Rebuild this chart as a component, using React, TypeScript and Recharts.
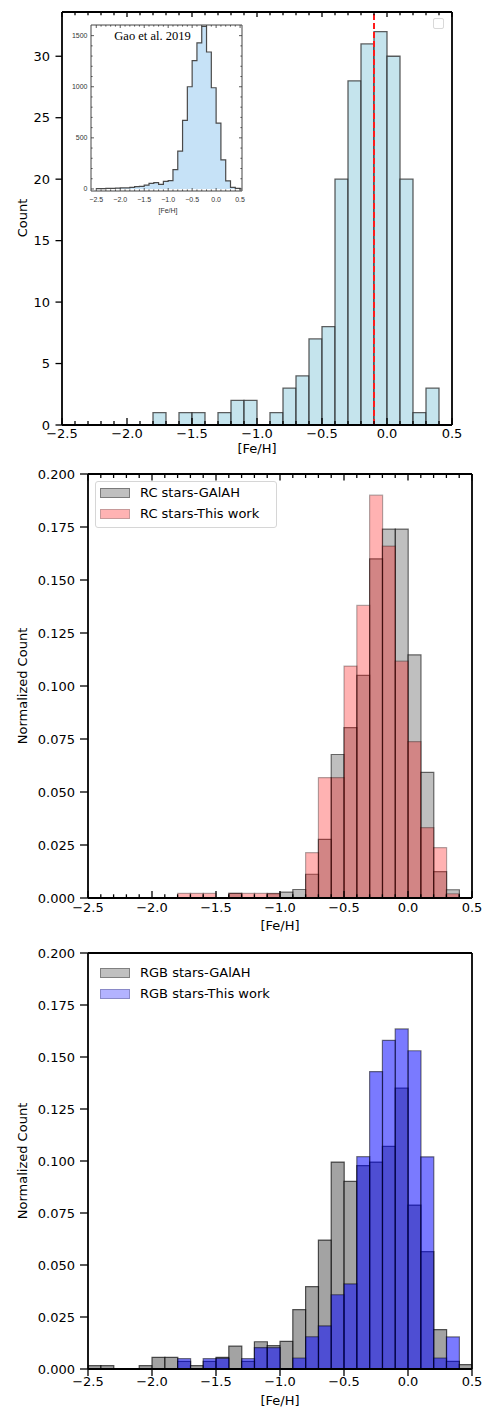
import React from 'react';
import { ComposedChart, Bar, Area, XAxis, YAxis, ReferenceLine, Legend } from 'recharts';

// ---------- data ----------
const binCenters = [-2.45, -2.35, -2.25, -2.15, -2.05, -1.95, -1.85, -1.75, -1.65, -1.55, -1.45, -1.35, -1.25, -1.15, -1.05, -0.95, -0.85, -0.75, -0.65, -0.55, -0.45, -0.35, -0.25, -0.15, -0.05, 0.05, 0.15, 0.25, 0.35, 0.45];

// Panel 1: counts (this work)
const countThisWork = [0, 0, 0, 0, 0, 0, 0, 1, 0, 1, 1, 0, 1, 2, 2, 0, 1, 3, 4, 7, 8, 20, 28, 31, 32, 30, 20, 1, 3, 0];
const medianFeH = -0.1;

// Panel 2: RC stars (normalized)
const rcGalah = [0, 0, 0, 0, 0, 0, 0, 0, 0, 0, 0, 0.0022, 0, 0, 0.002, 0.0028, 0.004, 0.0112, 0.0277, 0.0677, 0.0804, 0.105, 0.16, 0.174, 0.174, 0.1147, 0.0593, 0.0124, 0.0039, 0];
const rcThisWork = [0, 0, 0, 0, 0, 0, 0, 0.0022, 0.0022, 0.0022, 0, 0.0022, 0.0022, 0.0022, 0.0022, 0, 0, 0.0214, 0.0568, 0.0568, 0.1094, 0.138, 0.19, 0.166, 0.1117, 0.0738, 0.0332, 0.0238, 0.002, 0];

// Panel 3: RGB stars (normalized)
const rgbGalah = [0.0016, 0.0016, 0, 0, 0.0016, 0.0056, 0.0056, 0.0037, 0.0016, 0.0037, 0.0056, 0.011, 0.0037, 0.0131, 0.0112, 0.0133, 0.0285, 0.0396, 0.062, 0.0995, 0.0902, 0.0978, 0.0995, 0.107, 0.135, 0.0788, 0.0564, 0.0189, 0.0037, 0.0021];
const rgbThisWork = [0, 0, 0, 0, 0, 0, 0, 0.005, 0, 0.005, 0.0051, 0, 0.005, 0.0103, 0.0103, 0, 0.0053, 0.0155, 0.0207, 0.0357, 0.0409, 0.1021, 0.143, 0.158, 0.1635, 0.153, 0.102, 0.0053, 0.0154, 0];

// Inset: Gao et al. 2019 (bin left edges and counts)
const gaoEdges = [-2.5, -2.4, -2.3, -2.2, -2.1, -2.0, -1.9, -1.8, -1.7, -1.6, -1.5, -1.4, -1.3, -1.2, -1.1, -1.0, -0.9, -0.8, -0.7, -0.6, -0.5, -0.4, -0.3, -0.2, -0.1, 0.0, 0.1, 0.2, 0.3, 0.4, 0.5];
const gaoCounts = [3, 3, 5, 6, 8, 10, 10, 15, 22, 25, 38, 55, 62, 45, 75, 82, 190, 370, 670, 1000, 1255, 1430, 1590, 1340, 990, 645, 285, 80, 15, 5, 0];

// ticks
const feTicks = [-2.5, -2.4, -2.3, -2.2, -2.1, -2.0, -1.9, -1.8, -1.7, -1.6, -1.5, -1.4, -1.3, -1.2, -1.1, -1.0, -0.9, -0.8, -0.7, -0.6, -0.5, -0.4, -0.3, -0.2, -0.1, 0.0, 0.1, 0.2, 0.3, 0.4, 0.5];
const feMajorTicks = [-2.5, -2.0, -1.5, -1.0, -0.5, 0.0, 0.5];
const countTicks = [0, 5, 10, 15, 20, 25, 30];
const normTicks = [0, 0.025, 0.05, 0.075, 0.1, 0.125, 0.15, 0.175, 0.2];
const gaoYTicks = [0, 100, 200, 300, 400, 500, 600, 700, 800, 900, 1000, 1100, 1200, 1300, 1400, 1500];

const rcNames = ['RC stars-GAlAH', 'RC stars-This work'];
const rgbNames = ['RGB stars-GAlAH', 'RGB stars-This work'];

const panel1Data = binCenters.map((fe, i) => ({ fe, count: countThisWork[i] }));
const panel2Data = binCenters.map((fe, i) => ({ fe, galah: rcGalah[i], tw: rcThisWork[i] }));
const panel3Data = binCenters.map((fe, i) => ({ fe, galah: rgbGalah[i], tw: rgbThisWork[i] }));
const gaoData = gaoEdges.map((x, i) => ({ x, n: gaoCounts[i] }));

// ---------- helpers ----------
const FONT = "'DejaVu Sans', sans-serif";
const IFONT = "'Liberation Sans', Arial, sans-serif";
const fmtFe = (v: number) => {
  const s = v.toFixed(1);
  return s.startsWith('-') ? '\u2212' + s.slice(1) : s;
};
const isHalf = (v: number) => Math.abs(v * 2 - Math.round(v * 2)) < 1e-6;
const isMul = (m: number) => (v: number) => Math.abs(v / m - Math.round(v / m)) < 1e-6;

type TOpt = {
  dir: number;
  majorLen: number;
  minorLen: number;
  labels: boolean;
  off: number;
  fs: number;
  sw: number;
  isMajor: (v: number) => boolean;
  fmt: (v: number) => string;
  font: string;
  color: string;
};

const makeXTick = (o: TOpt) => (props: any) => {
  const { x, y, payload } = props;
  const v = Number(payload.value);
  const major = o.isMajor(v);
  const len = major ? o.majorLen : o.minorLen;
  return (
    <g>
      {len > 0 && <line x1={x} x2={x} y1={y} y2={y + o.dir * len} stroke={o.color} strokeWidth={o.sw} />}
      {o.labels && major && (
        <text x={x} y={y + o.off} textAnchor="middle" dominantBaseline="central" fontSize={o.fs} fontFamily={o.font} fill={o.color}>
          {o.fmt(v)}
        </text>
      )}
    </g>
  );
};

const makeYTick = (o: TOpt) => (props: any) => {
  const { x, y, payload } = props;
  const v = Number(payload.value);
  const major = o.isMajor(v);
  const len = major ? o.majorLen : o.minorLen;
  return (
    <g>
      {len > 0 && <line x1={x} x2={x + o.dir * len} y1={y} y2={y} stroke={o.color} strokeWidth={o.sw} />}
      {o.labels && major && (
        <text x={x - o.off} y={y} textAnchor="end" dominantBaseline="central" fontSize={o.fs} fontFamily={o.font} fill={o.color}>
          {o.fmt(v)}
        </text>
      )}
    </g>
  );
};

const SPINE = { stroke: '#000', strokeWidth: 1.8 };
const FS = 13;

const axisText = (x: number, y: number, text: string, rotate = false) => () => (
  <text
    x={x}
    y={y}
    textAnchor="middle"
    dominantBaseline="central"
    fontSize={FS}
    fontFamily={FONT}
    fill="#000"
    transform={rotate ? `rotate(-90 ${x} ${y})` : undefined}
  >
    {text}
  </text>
);

const LegendBox = ({ names, colors, edges, framed }: { names: string[]; colors: string[]; edges: string[]; framed: boolean }) => (
  <div
    style={{
      position: 'relative',
      width: 182,
      height: 47,
      boxSizing: 'border-box',
      border: framed ? '1px solid #d6d6d6' : '1px solid transparent',
      borderRadius: 3,
      background: framed ? 'rgba(255,255,255,0.85)' : 'transparent',
      fontFamily: FONT,
      fontSize: FS,
      color: '#000',
    }}
  >
    {names.map((n, i) => (
      <React.Fragment key={n}>
        <div
          style={{
            position: 'absolute',
            left: 4,
            top: (i === 0 ? 11.7 : 32.3) - 4.8,
            width: 30,
            height: 9.6,
            boxSizing: 'border-box',
            background: colors[i],
            border: `1px solid ${edges[i]}`,
          }}
        />
        <div style={{ position: 'absolute', left: 44, top: (i === 0 ? 11.7 : 32.3) - 8, lineHeight: '16px', whiteSpace: 'nowrap' }}>{n}</div>
      </React.Fragment>
    ))}
  </div>
);

// ---------- panels ----------
const Panel1 = () => (
  <ComposedChart width={483} height={458} data={panel1Data} margin={{ top: 11, right: 30, bottom: 0, left: 0 }} barCategoryGap={0} barGap={0}>
    <XAxis
      xAxisId="b"
      type="number"
      dataKey="fe"
      domain={[-2.5, 0.5]}
      allowDataOverflow
      ticks={feTicks}
      interval={0}
      height={33}
      tickSize={0}
      tickMargin={0}
      tickLine={false}
      axisLine={SPINE}
      tick={makeXTick({ dir: -1, majorLen: 7, minorLen: 4, labels: true, off: 8.5, fs: FS, sw: 1.3, isMajor: isHalf, fmt: fmtFe, font: FONT, color: '#000' })}
      label={{ content: axisText(257, 448.5, '[Fe/H]') }}
    />
    <XAxis
      xAxisId="t"
      orientation="top"
      type="number"
      dataKey="fe"
      domain={[-2.5, 0.5]}
      allowDataOverflow
      ticks={feTicks}
      interval={0}
      height={1}
      tickSize={0}
      tickMargin={0}
      tickLine={false}
      axisLine={SPINE}
      tick={makeXTick({ dir: 1, majorLen: 5, minorLen: 3.3, labels: false, off: 0, fs: FS, sw: 1.3, isMajor: isHalf, fmt: fmtFe, font: FONT, color: '#000' })}
    />
    <YAxis
      yAxisId="l"
      type="number"
      domain={[0, 33.6]}
      allowDataOverflow
      ticks={countTicks}
      interval={0}
      width={62}
      tickSize={0}
      tickMargin={0}
      tickLine={false}
      axisLine={SPINE}
      tick={makeYTick({ dir: -1, majorLen: 6.5, minorLen: 0, labels: true, off: 12, fs: FS, sw: 1.3, isMajor: () => true, fmt: (v) => String(v), font: FONT, color: '#000' })}
      label={{ content: axisText(22, 218, 'Count', true) }}
    />
    <YAxis yAxisId="r" orientation="right" type="number" domain={[0, 33.6]} allowDataOverflow ticks={countTicks} width={1} tickSize={0} tickMargin={0} tick={false} tickLine={false} axisLine={SPINE} />
    <Bar xAxisId="b" yAxisId="l" dataKey="count" fill="#add8e6" fillOpacity={0.7} stroke="#2a2a2a" strokeOpacity={0.75} strokeWidth={1.3} isAnimationActive={false} />
    <ReferenceLine xAxisId="b" yAxisId="l" x={medianFeH} stroke="#ff1a1a" strokeWidth={2} strokeDasharray="6 3" />
    <Legend
      layout="horizontal"
      verticalAlign="middle"
      align="center"
      wrapperStyle={{ left: 433, top: 18, width: 12, height: 12 }}
      content={() => <div style={{ width: 11, height: 11, boxSizing: 'border-box', border: '1px solid #d9d9d9', borderRadius: 2, background: '#fff' }} />}
    />
  </ComposedChart>
);

const Inset = () => (
  <ComposedChart width={186} height={205} data={gaoData} margin={{ top: 9, right: 3, bottom: 0, left: 0 }}>
    <XAxis
      xAxisId="b"
      type="number"
      dataKey="x"
      domain={[-2.61, 0.54]}
      allowDataOverflow
      ticks={feTicks}
      interval={0}
      height={29}
      tickSize={0}
      tickMargin={0}
      tickLine={false}
      axisLine={{ stroke: '#444', strokeWidth: 1 }}
      tick={makeXTick({ dir: -1, majorLen: 3, minorLen: 1.6, labels: true, off: 8, fs: 7, sw: 0.8, isMajor: isHalf, fmt: fmtFe, font: IFONT, color: '#333' })}
      label={{
        content: () => (
          <text x={108} y={195.5} textAnchor="middle" dominantBaseline="central" fontSize={7} fontFamily={IFONT} fill="#333">
            [Fe/H]
          </text>
        ),
      }}
    />
    <XAxis
      xAxisId="t"
      orientation="top"
      type="number"
      dataKey="x"
      domain={[-2.61, 0.54]}
      allowDataOverflow
      ticks={feTicks}
      interval={0}
      height={1}
      tickSize={0}
      tickMargin={0}
      tickLine={false}
      axisLine={{ stroke: '#444', strokeWidth: 1 }}
      tick={makeXTick({ dir: 1, majorLen: 3, minorLen: 1.6, labels: false, off: 0, fs: 7, sw: 0.8, isMajor: isHalf, fmt: fmtFe, font: IFONT, color: '#333' })}
      label={{
        content: () => (
          <text x={92.5} y={20.5} textAnchor="middle" dominantBaseline="central" fontSize={12.5} fontFamily="'Liberation Serif', 'Times New Roman', serif" fill="#000">
            Gao et al. 2019
          </text>
        ),
      }}
    />
    <YAxis
      yAxisId="l"
      type="number"
      domain={[-20, 1604]}
      allowDataOverflow
      ticks={gaoYTicks}
      interval={0}
      width={31}
      tickSize={0}
      tickMargin={0}
      tickLine={false}
      axisLine={{ stroke: '#444', strokeWidth: 1 }}
      tick={makeYTick({ dir: 1, majorLen: 3, minorLen: 1.6, labels: true, off: 3.5, fs: 7, sw: 0.8, isMajor: isMul(500), fmt: (v) => String(v), font: IFONT, color: '#333' })}
    />
    <YAxis
      yAxisId="r"
      orientation="right"
      type="number"
      domain={[-20, 1604]}
      allowDataOverflow
      ticks={gaoYTicks}
      interval={0}
      width={1}
      tickSize={0}
      tickMargin={0}
      tickLine={false}
      axisLine={{ stroke: '#444', strokeWidth: 1 }}
      tick={makeYTick({ dir: -1, majorLen: 3, minorLen: 1.6, labels: false, off: 0, fs: 7, sw: 0.8, isMajor: isMul(500), fmt: (v) => String(v), font: IFONT, color: '#333' })}
    />
    <Area xAxisId="b" yAxisId="l" type="stepAfter" dataKey="n" baseValue={0} fill="#c6e2f7" fillOpacity={1} stroke="#4a4a4a" strokeWidth={1.2} isAnimationActive={false} />
  </ComposedChart>
);

type PanelProps = {
  data: any[];
  height: number;
  top: number;
  plotH: number;
  xBottomTick: any;
  xBottomTicks: number[];
  xTopTick: any;
  xTopTicks: number[];
  xLabelY: number;
  yLabelY: number;
  galahOpacity: number;
  galahStroke: number;
  twFill: string;
  twOpacity: number;
  twStroke: number;
  legend: React.ReactNode;
};

const NormPanel = (p: PanelProps) => (
  <ComposedChart width={483} height={p.height} data={p.data} margin={{ top: p.top - 1, right: 10, bottom: 0, left: 0 }} barCategoryGap={0} barGap={0}>
    <XAxis
      xAxisId="b"
      type="number"
      dataKey="fe"
      domain={[-2.5, 0.5]}
      allowDataOverflow
      ticks={p.xBottomTicks}
      interval={0}
      height={p.height - p.top - p.plotH}
      tickSize={0}
      tickMargin={0}
      tickLine={false}
      axisLine={SPINE}
      tick={p.xBottomTick}
      label={{ content: axisText(280, p.xLabelY, '[Fe/H]') }}
    />
    <XAxis
      xAxisId="t"
      orientation="top"
      type="number"
      dataKey="fe"
      domain={[-2.5, 0.5]}
      allowDataOverflow
      ticks={p.xTopTicks}
      interval={0}
      height={1}
      tickSize={0}
      tickMargin={0}
      tickLine={false}
      axisLine={SPINE}
      tick={p.xTopTick}
    />
    <YAxis
      yAxisId="l"
      type="number"
      domain={[0, 0.2]}
      allowDataOverflow
      ticks={normTicks}
      interval={0}
      width={88}
      tickSize={0}
      tickMargin={0}
      tickLine={false}
      axisLine={SPINE}
      tick={makeYTick({ dir: -1, majorLen: 8, minorLen: 0, labels: true, off: 13, fs: FS, sw: 1.3, isMajor: () => true, fmt: (v) => v.toFixed(3), font: FONT, color: '#000' })}
      label={{ content: axisText(22, p.yLabelY, 'Normalized Count', true) }}
    />
    <YAxis yAxisId="r" orientation="right" type="number" domain={[0, 0.2]} allowDataOverflow ticks={normTicks} width={1} tickSize={0} tickMargin={0} tick={false} tickLine={false} axisLine={SPINE} />
    <Bar xAxisId="b" yAxisId="l" dataKey="galah" name="galah" fill="#808080" fillOpacity={p.galahOpacity} stroke="#000" strokeOpacity={p.galahStroke} strokeWidth={1.2} isAnimationActive={false} />
    <Bar xAxisId="t" yAxisId="r" dataKey="tw" name="tw" fill={p.twFill} fillOpacity={p.twOpacity} stroke="#000" strokeOpacity={p.twStroke} strokeWidth={1.2} isAnimationActive={false} />
    <Legend layout="horizontal" verticalAlign="middle" align="center" wrapperStyle={{ left: 95, top: 20.5, width: 182, height: 47 }} content={() => p.legend} />
  </ComposedChart>
);

export default function App() {
  return (
    <div style={{ position: 'absolute', left: 0, top: 0, width: 483, height: 1412, background: '#fff', overflow: 'hidden' }}>
      <div style={{ position: 'absolute', left: 0, top: 0 }}>
        <Panel1 />
      </div>
      <div style={{ position: 'absolute', left: 60, top: 15 }}>
        <Inset />
      </div>
      <div style={{ position: 'absolute', left: 0, top: 460 }}>
        <NormPanel
          data={panel2Data}
          height={480}
          top={14}
          plotH={424}
          xBottomTicks={feTicks}
          xBottomTick={makeXTick({ dir: -1, majorLen: 7, minorLen: 3.7, labels: true, off: 9.5, fs: FS, sw: 1.3, isMajor: isHalf, fmt: fmtFe, font: FONT, color: '#000' })}
          xTopTicks={feTicks}
          xTopTick={makeXTick({ dir: 1, majorLen: 6.5, minorLen: 4, labels: false, off: 0, fs: FS, sw: 1.3, isMajor: isHalf, fmt: fmtFe, font: FONT, color: '#000' })}
          xLabelY={465}
          yLabelY={226}
          galahOpacity={0.5}
          galahStroke={0.55}
          twFill="#ff0000"
          twOpacity={0.3}
          twStroke={0.3}
          legend={<LegendBox names={rcNames} colors={['#bfbfbf', '#ffb3b3']} edges={['#7a7a7a', '#c79a9a']} framed />}
        />
      </div>
      <div style={{ position: 'absolute', left: 0, top: 940 }}>
        <NormPanel
          data={panel3Data}
          height={472}
          top={13}
          plotH={416}
          xBottomTicks={feMajorTicks}
          xBottomTick={makeXTick({ dir: 1, majorLen: 7, minorLen: 0, labels: true, off: 12, fs: FS, sw: 1.3, isMajor: isHalf, fmt: fmtFe, font: FONT, color: '#000' })}
          xTopTicks={feMajorTicks}
          xTopTick={false}
          xLabelY={460}
          yLabelY={221}
          galahOpacity={0.72}
          galahStroke={0.65}
          twFill="#0000ff"
          twOpacity={0.52}
          twStroke={0.5}
          legend={<LegendBox names={rgbNames} colors={['#c0c0c0', '#b3b3ff']} edges={['#808080', '#8a8ac8']} framed={false} />}
        />
      </div>
    </div>
  );
}
